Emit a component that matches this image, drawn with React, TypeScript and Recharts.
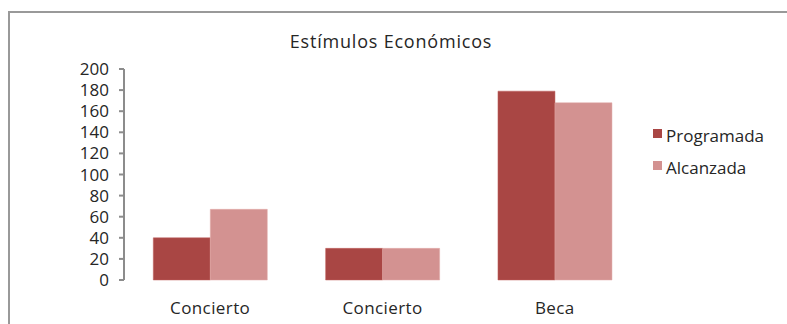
import { Bar, BarChart, ResponsiveContainer, XAxis, YAxis } from "recharts"

const categories = ["Concierto", "Concierto", "Beca"]
const programada = [40, 30, 179]
const alcanzada = [67, 30, 168]
const yTicks = [0, 20, 40, 60, 80, 100, 120, 140, 160, 180, 200]
const boundaryTicks = [0, 1, 2, 3]

const series = [
  { key: "programada", name: "Programada", color: "#a94644", edge: "#c0605e" },
  { key: "alcanzada", name: "Alcanzada", color: "#d39291", edge: "#e3aaa9" },
]

const FONT = "'Open Sans', 'Noto Sans', sans-serif"
const TEXT = "#262626"

const data = categories.map((name, i) => ({
  name,
  programada: programada[i],
  alcanzada: alcanzada[i],
}))

function LegendBox() {
  return (
    <div style={{ position: "absolute", left: 653, top: 119, fontFamily: FONT, fontSize: 17, color: TEXT }}>
      {series.map((s) => (
        <div key={s.key} style={{ display: "flex", alignItems: "center", height: 32 }}>
          <span style={{ width: 9, height: 9, background: s.color, marginRight: 4, marginTop: -3 }} />
          <span>{s.name}</span>
        </div>
      ))}
    </div>
  )
}

export default function App() {
  return (
    <div style={{ position: "absolute", left: 0, top: 0, width: 787, height: 324, overflow: "hidden", background: "#fff" }}>
      <div
        style={{
          position: "absolute",
          left: 8,
          top: 11,
          width: 820,
          height: 340,
          border: "2px solid #999",
          boxSizing: "border-box",
        }}
      />
      <div
        style={{
          position: "absolute",
          left: 0,
          width: 782,
          top: 29,
          textAlign: "center",
          fontFamily: FONT,
          fontSize: 18,
          color: TEXT,
          letterSpacing: 0.8,
        }}
      >
        Estímulos Económicos
      </div>
      <LegendBox />
      <div style={{ position: "absolute", left: 0, top: 0, width: 787, height: 324 }}>
        <ResponsiveContainer width="100%" height="100%">
          <BarChart
            data={data}
            margin={{ top: 69, right: 146, left: 0, bottom: 14 }}
            barCategoryGap="17%"
            barGap={0}
          >
            <XAxis
              xAxisId="edges"
              type="number"
              domain={[0, 3]}
              ticks={boundaryTicks}
              tickFormatter={() => ""}
              height={0}
              stroke="#8c8c8c"
              strokeWidth={2}
              tickSize={6}
            />
            <XAxis
              dataKey="name"
              height={30}
              axisLine={false}
              tickLine={false}
              tickMargin={16}
              tick={{ fill: TEXT, fontSize: 17, fontFamily: FONT, letterSpacing: 0.4 }}
              interval={0}
            />
            <YAxis
              domain={[0, 200]}
              ticks={yTicks}
              interval={0}
              width={124}
              stroke="#8c8c8c"
              strokeWidth={2}
              tickSize={5}
              tickMargin={10}
              tick={{ fill: TEXT, fontSize: 17, fontFamily: FONT }}
            />
            {series.map((s) => (
              <Bar
                key={s.key}
                dataKey={s.key}
                name={s.name}
                fill={s.color}
                stroke={s.edge}
                strokeWidth={0.5}
                isAnimationActive={false}
              />
            ))}
          </BarChart>
        </ResponsiveContainer>
      </div>
    </div>
  )
}
